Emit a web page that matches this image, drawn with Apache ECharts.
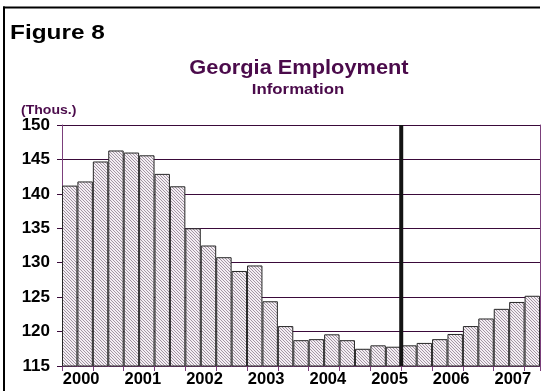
<!DOCTYPE html>
<html>
<head>
<meta charset="utf-8">
<script src="https://cdn.jsdelivr.net/npm/echarts@6/dist/echarts.min.js"></script>
<style>
html,body{margin:0;padding:0;background:#fff;overflow:hidden;}
#chart{width:558px;height:391px;}
</style>
</head>
<body>
<div id="chart"></div>
<script>
const quarters = [
  '2000Q1','2000Q2','2000Q3','2000Q4',
  '2001Q1','2001Q2','2001Q3','2001Q4',
  '2002Q1','2002Q2','2002Q3','2002Q4',
  '2003Q1','2003Q2','2003Q3','2003Q4',
  '2004Q1','2004Q2','2004Q3','2004Q4',
  '2005Q1','2005Q2','2005Q3','2005Q4',
  '2006Q1','2006Q2','2006Q3','2006Q4',
  '2007Q1','2007Q2','2007Q3'
];
const employment = [
  141.2, 141.8, 144.7, 146.3,
  146.0, 145.6, 142.9, 141.1,
  135.0, 132.5, 130.8, 128.8,
  129.6, 124.4, 120.8, 118.75,
  118.9, 119.6, 118.75, 117.5,
  118.0, 117.8, 118.0, 118.35,
  118.9, 119.65, 120.8, 121.9,
  123.3, 124.3, 125.2
];
const yTicks = [115, 120, 125, 130, 135, 140, 145, 150];
const dividerAt = [22];

const figureLabel = 'Figure 8';
const titleText = 'Georgia Employment';
const subtitleText = 'Information';
const unitText = '(Thous.)';

const tile = document.createElement('canvas');
tile.width = 3; tile.height = 3;
const tctx = tile.getContext('2d');
tctx.fillStyle = '#f3eef3';
tctx.fillRect(0, 0, 3, 3);
tctx.fillStyle = '#a395a3';
for (let i = 0; i < 3; i++) tctx.fillRect(i, i, 1, 1);

const purple = '#4b0b4b';
const axisPurple = '#7b3f7b';

const chart = echarts.init(document.getElementById('chart'), null, {renderer: 'canvas'});
chart.setOption({
  animation: false,
  backgroundColor: '#ffffff',
  grid: {left: 62, right: 18, top: 125, bottom: 25, containLabel: false},
  xAxis: [{
    type: 'category',
    data: quarters,
    boundaryGap: true,
    axisLine: {show: true, lineStyle: {color: axisPurple, width: 1}},
    axisTick: {show: true, interval: 1, length: 5, inside: false, lineStyle: {color: axisPurple}},
    axisLabel: {
      interval: function (i) { return i % 4 === 1; },
      formatter: function (v) { return v.slice(0, 4); },
      fontFamily: 'Liberation Sans, Arial, sans-serif',
      fontWeight: 'bold',
      fontSize: 16.5,
      color: '#000',
      margin: 5,
      padding: [0, 8, 0, 0]
    },
    splitLine: {show: false}
  }, {
    type: 'value',
    min: 0,
    max: quarters.length,
    show: false
  }],
  yAxis: [{
    type: 'value',
    min: yTicks[0],
    max: yTicks[yTicks.length - 1],
    interval: 5,
    axisLine: {show: true, lineStyle: {color: axisPurple, width: 1}},
    axisTick: {show: true, length: 5, lineStyle: {color: '#3a0a3a'}},
    axisLabel: {
      fontFamily: 'Liberation Sans, Arial, sans-serif',
      fontWeight: 'bold',
      fontSize: 17,
      color: '#000',
      margin: 12
    },
    splitLine: {show: true, lineStyle: {color: '#3a0a3a', width: 1}}
  }, {
    type: 'value',
    position: 'right',
    min: yTicks[0],
    max: yTicks[yTicks.length - 1],
    interval: 5,
    axisLine: {show: true, lineStyle: {color: axisPurple, width: 1}},
    axisTick: {show: false},
    axisLabel: {show: false},
    splitLine: {show: false}
  }],
  series: [{
    type: 'bar',
    data: employment,
    barCategoryGap: '0%',
    itemStyle: {
      color: {image: tile, repeat: 'repeat'},
      borderColor: '#262626',
      borderWidth: 1
    },
    z: 2
  }, {
    type: 'line',
    xAxisIndex: 1,
    yAxisIndex: 0,
    data: [[dividerAt[0], yTicks[0]], [dividerAt[0], yTicks[yTicks.length - 1]]],
    symbol: 'none',
    lineStyle: {color: '#141414', width: 4},
    z: 5
  }],
  graphic: [{
    type: 'line',
    shape: {x1: 4, y1: 6.5, x2: 4, y2: 391},
    style: {stroke: '#000', lineWidth: 2},
    silent: true
  }, {
    type: 'line',
    shape: {x1: 3, y1: 7.5, x2: 540, y2: 7.5},
    style: {stroke: '#000', lineWidth: 2},
    silent: true
  }, {
    type: 'text',
    x: 10, y: 33.5,
    scaleX: 1.16,
    style: {text: figureLabel, font: 'bold 21px "Liberation Sans", Arial, sans-serif', fill: '#000', textAlign: 'left', textVerticalAlign: 'middle'}
  }, {
    type: 'text',
    x: 299, y: 68,
    scaleX: 1.09,
    style: {text: titleText, font: 'bold 20px "Liberation Sans", Arial, sans-serif', fill: purple, textAlign: 'center', textVerticalAlign: 'middle'}
  }, {
    type: 'text',
    x: 298, y: 90.5,
    scaleX: 1.2,
    style: {text: subtitleText, font: 'bold 14px "Liberation Sans", Arial, sans-serif', fill: purple, textAlign: 'center', textVerticalAlign: 'middle'}
  }, {
    type: 'text',
    x: 21, y: 110.5,
    scaleX: 1.08,
    style: {text: unitText, font: 'bold 13px "Liberation Sans", Arial, sans-serif', fill: purple, textAlign: 'left', textVerticalAlign: 'middle'}
  }]
});
</script>
</body>
</html>
